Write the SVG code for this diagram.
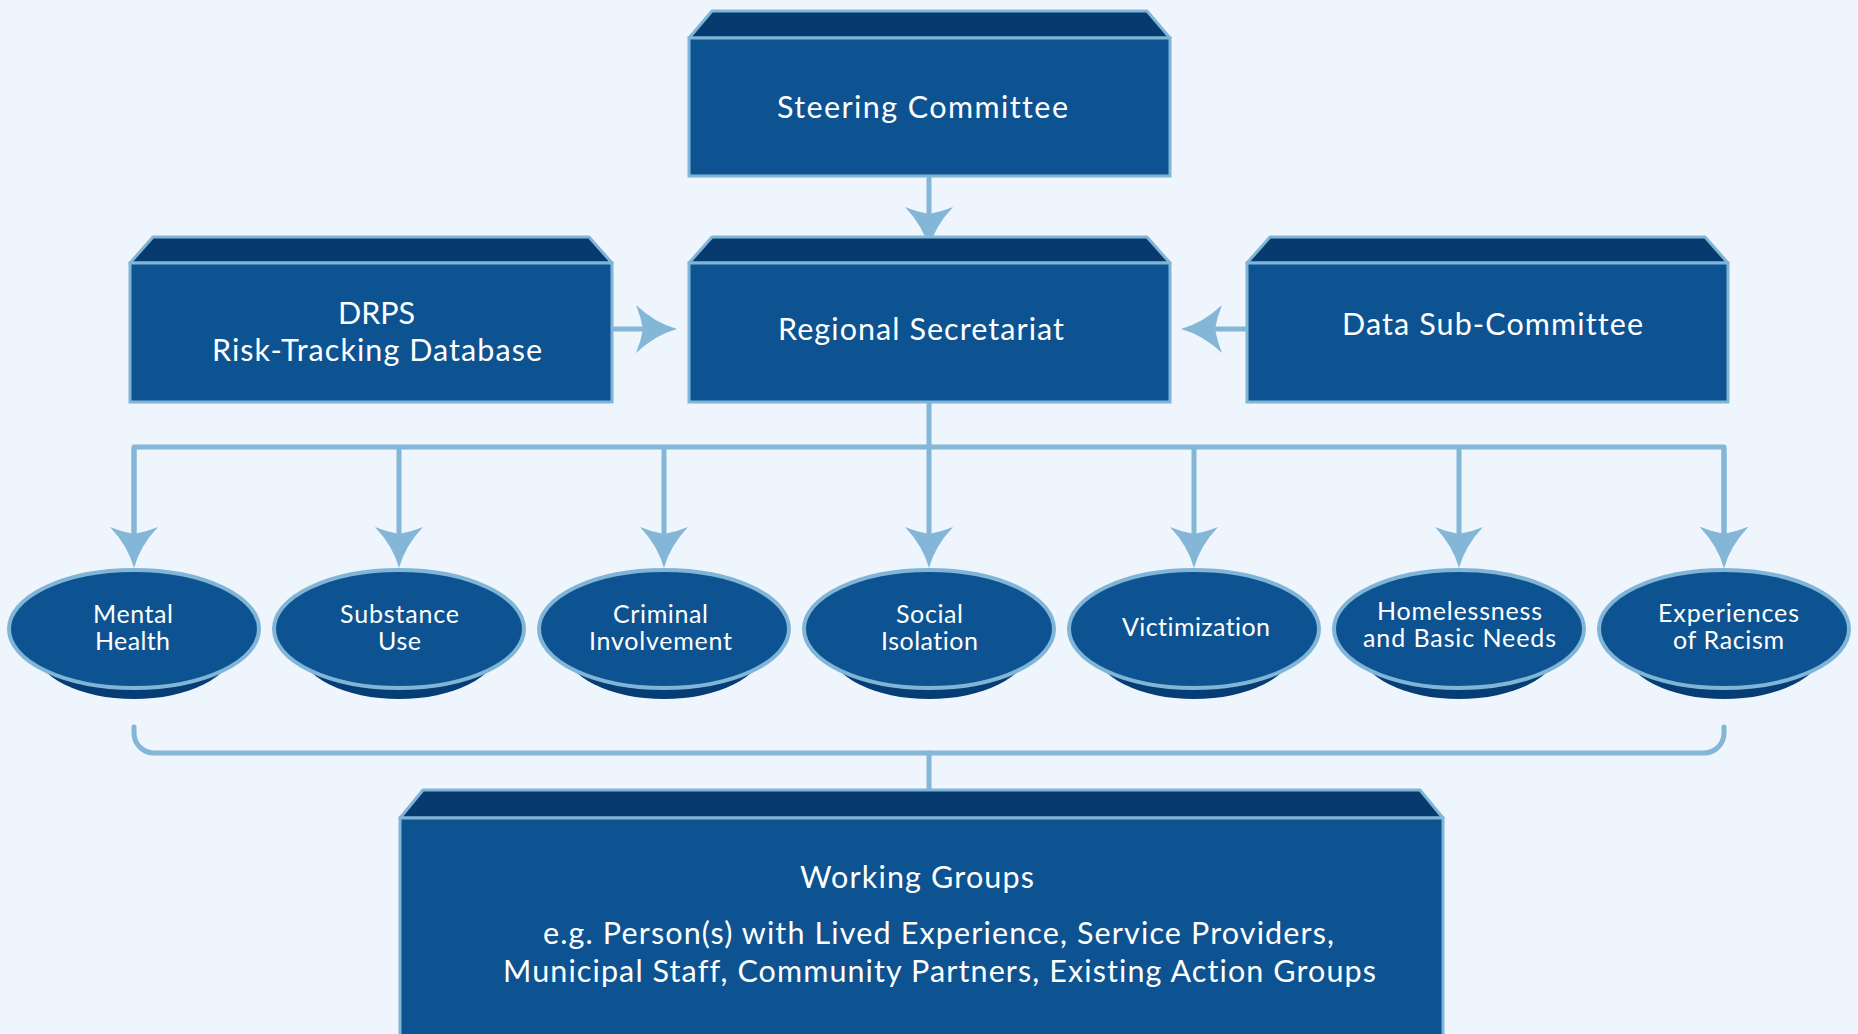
<svg xmlns="http://www.w3.org/2000/svg" width="1858" height="1034" viewBox="0 0 1858 1034">
<defs>
<style>
.front{fill:#0E5391;stroke:#80B5D8;stroke-width:3}
.bevel{fill:#073A6E;stroke:#80B5D8;stroke-width:3;stroke-linejoin:round}
.oval{fill:#0E5391;stroke:#80B5D8;stroke-width:4}
.shadow{fill:#063D74}
.conn{fill:none;stroke:#84B6D8;stroke-width:5;stroke-linejoin:round}
.t{font-family:Lato,"Noto Sans","Liberation Sans",sans-serif;fill:#FFFFFF;text-anchor:middle;font-variant-ligatures:none}
.big{font-size:30.5px}
.sm{font-size:25px}
</style>
<marker id="ah" markerUnits="userSpaceOnUse" viewBox="-8 -25 43 50" refX="0" refY="0" markerWidth="43" markerHeight="50" orient="auto" overflow="visible">
<path d="M34,0 Q12,-6 -7,-24 Q-2,-12 0,0 Q-2,12 -7,24 Q12,6 34,0 Z" fill="#84B6D8"/>
</marker>
</defs>
<rect x="0" y="0" width="1858" height="1034" fill="#EFF5FC"/>

<g id="connectors">
<path class="conn" d="M929,176 V214" marker-end="url(#ah)"/>
<path class="conn" d="M612,329 H643" marker-end="url(#ah)"/>
<path class="conn" d="M1247,329 H1215" marker-end="url(#ah)"/>
<path class="conn" d="M929,402 V447"/>
<path class="conn" d="M134,534 V447 H1724 V534" marker-end="url(#ah)"/>
<path class="conn" d="M134,448 V534" marker-end="url(#ah)"/>
<path class="conn" d="M399,447 V534" marker-end="url(#ah)"/>
<path class="conn" d="M664,447 V534" marker-end="url(#ah)"/>
<path class="conn" d="M929,447 V534" marker-end="url(#ah)"/>
<path class="conn" d="M1194,447 V534" marker-end="url(#ah)"/>
<path class="conn" d="M1459,447 V534" marker-end="url(#ah)"/>
<path class="conn" d="M1724,448 V534" marker-end="url(#ah)"/>
<path class="conn" style="stroke-linecap:round" d="M134,727 V733 A20,20 0 0 0 154,753 H1704 A20,20 0 0 0 1724,733 V727"/>
<path class="conn" style="stroke-linecap:round" d="M929,753 V806"/>
</g>

<g id="steering-committee">
<path class="bevel" d="M689,38 L712,11 H1147 L1170,38 Z"/>
<rect class="front" x="689" y="38" width="481" height="138"/>
<text class="t big" x="922.5" y="118" textLength="291">Steering Committee</text>
</g>

<g id="drps">
<path class="bevel" d="M130,263 L153,237 H589 L612,263 Z"/>
<rect class="front" x="130" y="263" width="482" height="139"/>
<text class="t big" x="376.5" y="324" textLength="77">DRPS</text>
<text class="t big" x="377" y="361" textLength="330">Risk-Tracking Database</text>
</g>

<g id="regional-secretariat">
<path class="bevel" d="M689,263 L712,237 H1147 L1170,263 Z"/>
<rect class="front" x="689" y="263" width="481" height="139"/>
<text class="t big" x="921" y="340" textLength="286">Regional Secretariat</text>
</g>

<g id="data-sub-committee">
<path class="bevel" d="M1247,263 L1270,237 H1705 L1728,263 Z"/>
<rect class="front" x="1247" y="263" width="481" height="139"/>
<text class="t big" x="1492.5" y="335" textLength="301">Data Sub-Committee</text>
</g>

<g id="mental-health">
<ellipse class="shadow" cx="134" cy="649" rx="99" ry="50"/>
<ellipse class="oval" cx="134" cy="629" rx="125" ry="59"/>
<text class="t sm" x="133" y="623" textLength="80">Mental</text>
<text class="t sm" x="132.5" y="650" textLength="75">Health</text>
</g>

<g id="substance-use">
<ellipse class="shadow" cx="399" cy="649" rx="99" ry="50"/>
<ellipse class="oval" cx="399" cy="629" rx="125" ry="59"/>
<text class="t sm" x="399.5" y="623" textLength="119">Substance</text>
<text class="t sm" x="399.5" y="650" textLength="43">Use</text>
</g>

<g id="criminal-involvement">
<ellipse class="shadow" cx="664" cy="649" rx="99" ry="50"/>
<ellipse class="oval" cx="664" cy="629" rx="125" ry="59"/>
<text class="t sm" x="660.5" y="623" textLength="95">Criminal</text>
<text class="t sm" x="660.5" y="650" textLength="143">Involvement</text>
</g>

<g id="social-isolation">
<ellipse class="shadow" cx="929" cy="649" rx="99" ry="50"/>
<ellipse class="oval" cx="929" cy="629" rx="125" ry="59"/>
<text class="t sm" x="929.5" y="623" textLength="67">Social</text>
<text class="t sm" x="929.5" y="650" textLength="97">Isolation</text>
</g>

<g id="victimization">
<ellipse class="shadow" cx="1194" cy="649" rx="99" ry="50"/>
<ellipse class="oval" cx="1194" cy="629" rx="125" ry="59"/>
<text class="t sm" x="1196" y="636" textLength="148">Victimization</text>
</g>

<g id="homelessness">
<ellipse class="shadow" cx="1459" cy="649" rx="99" ry="50"/>
<ellipse class="oval" cx="1459" cy="629" rx="125" ry="59"/>
<text class="t sm" x="1459.5" y="620" textLength="165">Homelessness</text>
<text class="t sm" x="1459.5" y="647" textLength="193">and Basic Needs</text>
</g>

<g id="experiences-of-racism">
<ellipse class="shadow" cx="1724" cy="649" rx="99" ry="50"/>
<ellipse class="oval" cx="1724" cy="629" rx="125" ry="59"/>
<text class="t sm" x="1728.5" y="622" textLength="141">Experiences</text>
<text class="t sm" x="1728.5" y="649" textLength="111">of Racism</text>
</g>

<g id="working-groups">
<path class="bevel" d="M400,818 L423,790 H1420 L1443,818 Z"/>
<rect class="front" x="400" y="818" width="1043" height="230"/>
<text class="t big" x="917" y="888" textLength="234">Working Groups</text>
<text class="t big" x="938.5" y="944" textLength="791">e.g. Person(s) with Lived Experience, Service Providers,</text>
<text class="t big" x="939.5" y="982" textLength="873">Municipal Staff, Community Partners, Existing Action Groups</text>
</g>
</svg>
